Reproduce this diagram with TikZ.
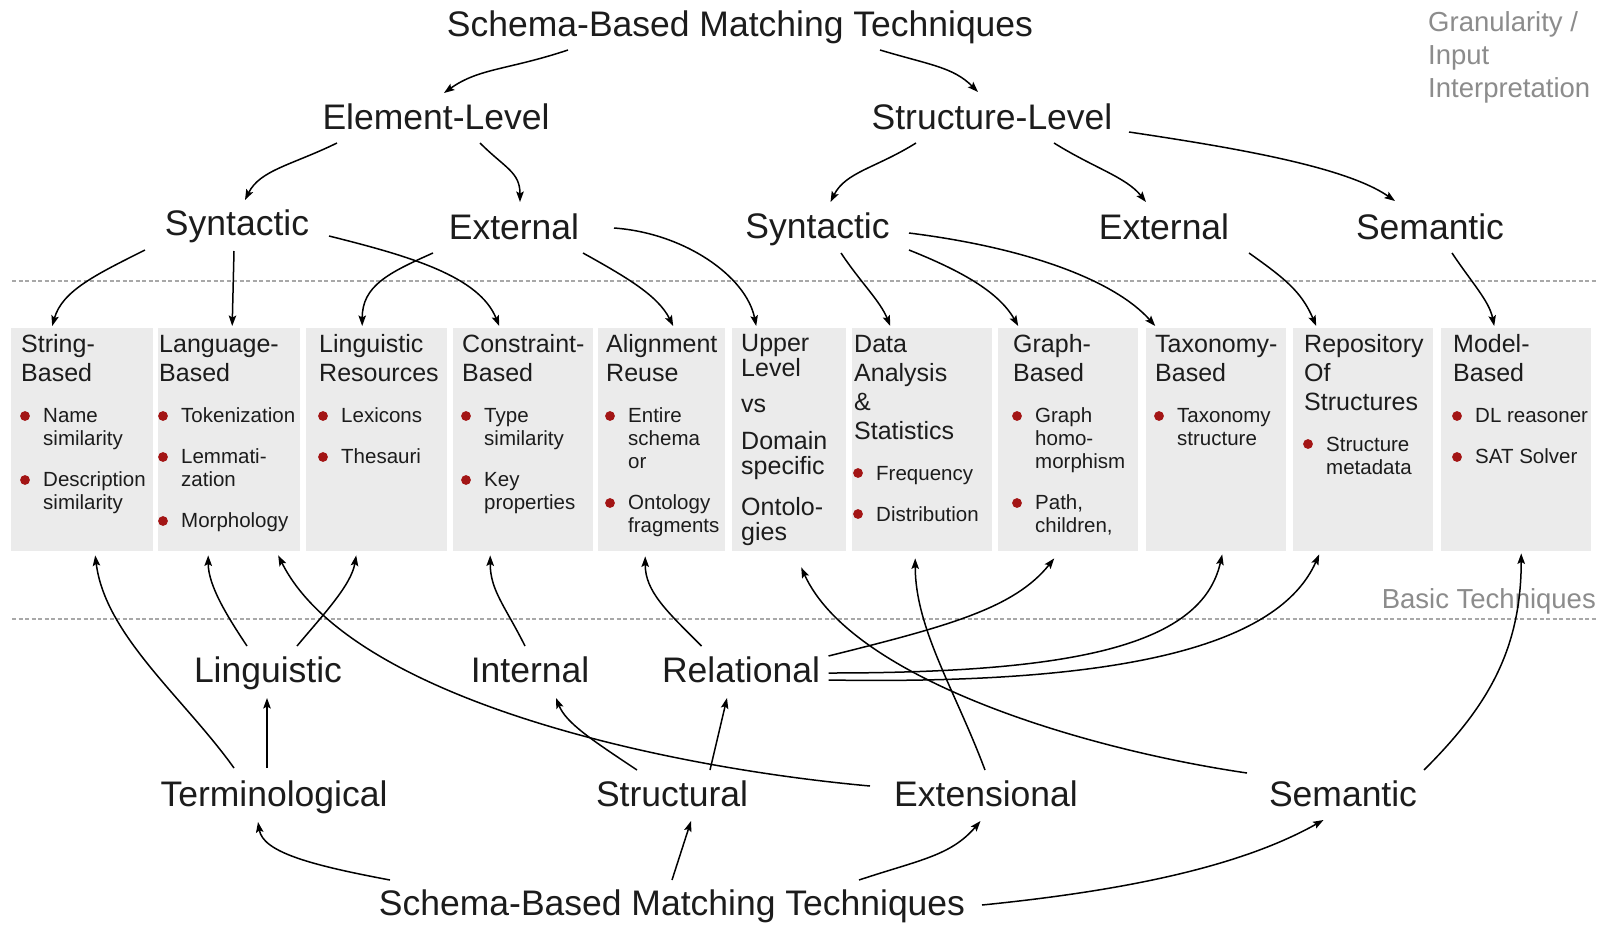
\documentclass[tikz,border=0pt]{standalone}
\usepackage{fontspec}
\setmainfont{Liberation Sans}
\usetikzlibrary{arrows.meta}
\definecolor{txt}{HTML}{1C1C1C}
\definecolor{boxfill}{HTML}{EBEBEB}
\definecolor{bul}{HTML}{A31515}
\definecolor{graytxt}{HTML}{8C8C8C}
\definecolor{dotline}{HTML}{A8A8A8}
\newcommand\bigfont{\fontsize{35.5}{42}\selectfont}
\newcommand\grayfont{\fontsize{27.5}{33}\selectfont}
\newcommand\ttlfont{\fontsize{25}{29}\selectfont}
\newcommand\itmfont{\fontsize{20.5}{23}\selectfont}
\newcommand\tline[1]{\hbox{#1}}
\newcommand\bitem[1]{\vskip18pt\itmfont\hbox{\hspace{22pt}#1}}
\newcommand\bcont[1]{\hbox{\hspace{22pt}#1}}
\tikzset{
  big/.style={font=\bigfont, text=txt, inner sep=0pt, anchor=base},
  graylab/.style={font=\grayfont, text=graytxt, inner sep=0pt},
  techbox/.style={fill=boxfill, draw=none, inner sep=0pt, anchor=north west, minimum height=223pt},
  boxtext/.style={text=txt, inner sep=0pt, anchor=base west},
  arr/.style={-{Stealth[length=10.5pt,width=7.5pt,inset=2pt]}, line width=1.5pt, black},
  sep/.style={draw=dotline, line width=2.3pt, dash pattern=on 4pt off 2.5pt},
  dot/.style={fill=bul}
}
\begin{document}
\begin{tikzpicture}[x=1pt,y=-1pt]
\useasboundingbox (0,0) rectangle (1602,924);
\fill[white] (0,0) rectangle (1602,924);

% separators
\draw[sep] (12,281) -- (1597,281);
\draw[sep] (12,619) -- (1597,619);

% side labels
\node[graylab, anchor=base west] (gran) at (1428,31) {\vtop{\grayfont\baselineskip=33pt\hbox{Granularity /}\hbox{Input}\hbox{Interpretation}}};
\node[graylab, anchor=base east] (basic) at (1596,608) {Basic Techniques};

% boxes
\node[techbox, minimum width=142pt] (b1) at (11,328) {};
\node[techbox, minimum width=142pt] (b2) at (158,328) {};
\node[techbox, minimum width=141pt] (b3) at (306,328) {};
\node[techbox, minimum width=140pt] (b4) at (453,328) {};
\node[techbox, minimum width=127pt] (b5) at (598,328) {};
\node[techbox, minimum width=114pt] (b6) at (732,328) {};
\node[techbox, minimum width=140pt] (b7) at (852,328) {};
\node[techbox, minimum width=140pt] (b8) at (998,328) {};
\node[techbox, minimum width=140pt] (b9) at (1146,328) {};
\node[techbox, minimum width=140pt] (b10) at (1293,328) {};
\node[techbox, minimum width=150pt] (b11) at (1441,328) {};

% box texts
\node[boxtext] (t1) at (21,352) {\vtop{\ttlfont\tline{String-}\tline{Based}\bitem{Name}\bcont{similarity}\bitem{Description}\bcont{similarity}}};
\node[boxtext] (t2) at (159,352) {\vtop{\ttlfont\tline{Language-}\tline{Based}\bitem{Tokenization}\bitem{Lemmati-}\bcont{zation}\bitem{Morphology}}};
\node[boxtext] (t3) at (319,352) {\vtop{\ttlfont\tline{Linguistic}\tline{Resources}\bitem{Lexicons}\bitem{Thesauri}}};
\node[boxtext] (t4) at (462,352) {\vtop{\ttlfont\tline{Constraint-}\tline{Based}\bitem{Type}\bcont{similarity}\bitem{Key}\bcont{properties}}};
\node[boxtext] (t5) at (606,352) {\vtop{\ttlfont\tline{Alignment}\tline{Reuse}\bitem{Entire}\bcont{schema}\bcont{or}\bitem{Ontology}\bcont{fragments}}};
\node[boxtext] (t6) at (741,351) {\vtop{\ttlfont\baselineskip=25pt\tline{Upper}\tline{Level}\vskip11pt\tline{vs}\vskip12pt\tline{Domain}\tline{specific}\vskip16pt\tline{Ontolo-}\tline{gies}}};
\node[boxtext] (t7) at (854,352) {\vtop{\ttlfont\tline{Data}\tline{Analysis}\tline{\&}\tline{Statistics}\bitem{Frequency}\bitem{Distribution}}};
\node[boxtext] (t8) at (1013,352) {\vtop{\ttlfont\tline{Graph-}\tline{Based}\bitem{Graph}\bcont{homo-}\bcont{morphism}\bitem{Path,}\bcont{children,}}};
\node[boxtext] (t9) at (1155,352) {\vtop{\ttlfont\tline{Taxonomy-}\tline{Based}\bitem{Taxonomy}\bcont{structure}}};
\node[boxtext] (t10) at (1304,352) {\vtop{\ttlfont\tline{Repository}\tline{Of}\tline{Structures}\bitem{Structure}\bcont{metadata}}};
\node[boxtext] (t11) at (1453,352) {\vtop{\ttlfont\tline{Model-}\tline{Based}\bitem{DL reasoner}\bitem{SAT Solver}}};

% bullet dots
\foreach \bx/\by in {25/416, 25/480, 163/416, 163/457, 163/521, 323/416, 323/457,
  466/416, 466/480, 610/416, 610/503, 858/473, 858/514, 1017/416, 1017/503,
  1159/416, 1308/444, 1457/416, 1457/457}
  \fill[dot] (\bx,\by) circle (4.9pt);

% labels
\node[big] (top) at (740,36) {Schema-Based Matching Techniques};
\node[big] (el) at (436,129) {Element-Level};
\node[big] (sl) at (992,129) {Structure-Level};
\node[big] (synl) at (237,235) {Syntactic};
\node[big] (extl) at (514,239) {External};
\node[big] (synr) at (817.5,238) {Syntactic};
\node[big] (extr) at (1164,239) {External};
\node[big] (sem) at (1430,239) {Semantic};
\node[big] (ling) at (268,682) {Linguistic};
\node[big] (int) at (530,682) {Internal};
\node[big] (rel) at (741,682) {Relational};
\node[big] (term) at (274,806) {Terminological};
\node[big] (struc) at (672,806) {Structural};
\node[big] (ext) at (986,806) {Extensional};
\node[big] (semb) at (1343,806) {Semantic};
\node[big] (bot) at (672,915) {Schema-Based Matching Techniques};

% top arrows
\draw[arr] ([shift={(-172,14)}]top.base) .. controls +(-60,20) and +(35,-25) .. ([shift={(8,-36)}]el.base);
\draw[arr] ([shift={(140,14)}]top.base) .. controls +(50,15) and +(-25,-25) .. ([shift={(-14,-37)}]sl.base);
\draw[arr] ([shift={(-99,14)}]el.base) .. controls +(-45,22) and +(15,-30) .. ([shift={(8,-35)}]synl.base);
\draw[arr] ([shift={(44,14)}]el.base) .. controls +(25,25) and +(0,-30) .. ([shift={(6,-37)}]extl.base);
\draw[arr] ([shift={(-76,14)}]sl.base) .. controls +(-40,25) and +(15,-30) .. ([shift={(13,-36)}]synr.base);
\draw[arr] ([shift={(62,14)}]sl.base) .. controls +(40,25) and +(-20,-25) .. ([shift={(-18,-37)}]extr.base);
\draw[arr] ([shift={(137,3)}]sl.base) .. controls +(100,15) and +(-50,-35) .. ([shift={(-35,-38)}]sem.base);

\draw[arr] ([shift={(-92,15)}]synl.base) .. controls +(-50,25) and +(10,-35) .. ([shift={(-30,-2)}]b1.north);
\draw[arr] ([shift={(-3,16)}]synl.base) -- ([shift={(3,-2)}]b2.north);
\draw[arr] ([shift={(92,1)}]synl.base) .. controls +(80,20) and +(-20,-50) .. ([shift={(-24,-2)}]b4.north);
\draw[arr] ([shift={(-81,14)}]extl.base) .. controls +(-45,20) and +(0,-40) .. ([shift={(-14.5,-2)}]b3.north);
\draw[arr] ([shift={(69,14)}]extl.base) .. controls +(45,25) and +(-15,-30) .. ([shift={(11.5,-2)}]b5.north);
\draw[arr] ([shift={(100,-11)}]extl.base) .. controls +(70,5) and +(-10,-50) .. ([shift={(-33,-2)}]b6.north);
\draw[arr] ([shift={(23.5,15)}]synr.base) .. controls +(20,30) and +(-10,-25) .. ([shift={(-32,-2)}]b7.north);
\draw[arr] ([shift={(91.5,12)}]synr.base) .. controls +(50,20) and +(-20,-35) .. ([shift={(-50,-2)}]b8.north);
\draw[arr] ([shift={(91.5,-5)}]synr.base) .. controls +(120,15) and +(-40,-45) .. ([shift={(-61,-2)}]b9.north);
\draw[arr] ([shift={(85,14)}]extr.base) .. controls +(35,25) and +(-15,-35) .. ([shift={(-47,-2)}]b10.north);
\draw[arr] ([shift={(22,14)}]sem.base) .. controls +(20,30) and +(-5,-25) .. ([shift={(-22,-2)}]b11.north);

% bottom arrows
\draw[arr] ([shift={(-40,-38)}]term.base) .. controls +(-50,-70) and +(10,80) .. ([shift={(13,4)}]b1.south);
\draw[arr] ([shift={(-7,-38)}]term.base) -- ([shift={(-1,16)}]ling.base);
\draw[arr] ([shift={(-21,-36)}]ling.base) .. controls +(-20,-30) and +(0,30) .. ([shift={(-21,4)}]b2.south);
\draw[arr] ([shift={(29,-36)}]ling.base) .. controls +(25,-30) and +(-5,30) .. ([shift={(-20.5,4)}]b3.south);
\draw[arr] ([shift={(-116,-20)}]ext.base) .. controls +(-220,-20) and +(70,140) .. ([shift={(49,4)}]b2.south);
\draw[arr] ([shift={(-5,-36)}]int.base) .. controls +(-20,-40) and +(0,35) .. ([shift={(-33,4)}]b4.south);
\draw[arr] ([shift={(-35,-36)}]struc.base) .. controls +(-45,-30) and +(10,25) .. ([shift={(26,16)}]int.base);
\draw[arr] ([shift={(38,-36)}]struc.base) -- ([shift={(-14,16)}]rel.base);
\draw[arr] ([shift={(-39.5,-36)}]rel.base) .. controls +(-35,-35) and +(0,35) .. ([shift={(-16.5,5)}]b5.south);
\draw[arr] ([shift={(87.5,-26)}]rel.base) .. controls +(120,-30) and +(-40,50) .. ([shift={(-14,7)}]b8.south);
\draw[arr] ([shift={(87.5,-9)}]rel.base) .. controls +(250,0) and +(-20,90) .. ([shift={(6,3)}]b9.south);
\draw[arr] ([shift={(87.5,-2)}]rel.base) .. controls +(300,5) and +(-40,90) .. ([shift={(-44,3)}]b10.south);
\draw[arr] ([shift={(-1,-36)}]ext.base) .. controls +(-30,-80) and +(0,70) .. ([shift={(-7,7)}]b7.south);
\draw[arr] ([shift={(-96,-33)}]semb.base) .. controls +(-170,-25) and +(50,110) .. ([shift={(12,16)}]b6.south);
\draw[arr] ([shift={(81,-36)}]semb.base) .. controls +(60,-60) and +(0,100) .. ([shift={(5,2)}]b11.south);
\draw[arr] ([shift={(-282,-35)}]bot.base) .. controls +(-80,-15) and +(5,30) .. ([shift={(-16,16)}]term.base);
\draw[arr] ([shift={(0,-35)}]bot.base) -- ([shift={(19,15)}]struc.base);
\draw[arr] ([shift={(187,-35)}]bot.base) .. controls +(60,-20) and +(-30,35) .. ([shift={(-5.5,15)}]ext.base);
\draw[arr] ([shift={(310,-10)}]bot.base) .. controls +(150,-15) and +(-80,45) .. ([shift={(-19.5,14)}]semb.base);
\end{tikzpicture}
\end{document}
